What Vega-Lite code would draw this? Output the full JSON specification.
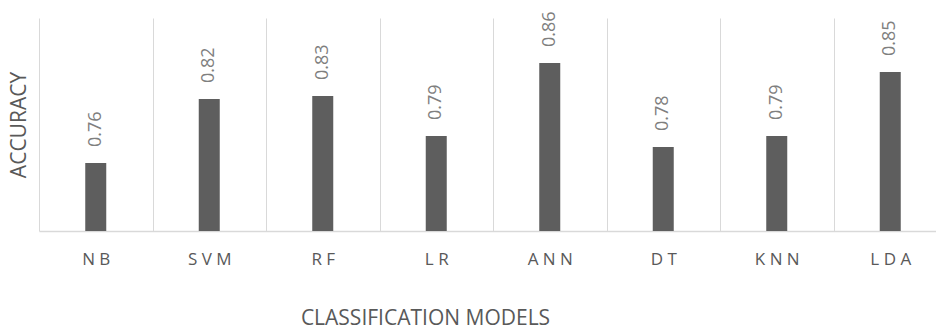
{
  "$schema": "https://vega.github.io/schema/vega-lite/v6.json",
  "autosize": {"type": "none"},
  "width": 897,
  "height": 213,
  "padding": {"left": 39, "top": 18, "right": 0, "bottom": 96},
  "background": "white",
  "config": {"view": {"stroke": null}, "font": "Open Sans"},
  "data": {
    "values": [
      {"model": "NB", "accuracy": 0.7638},
      {"model": "SVM", "accuracy": 0.824},
      {"model": "RF", "accuracy": 0.8268},
      {"model": "LR", "accuracy": 0.7892},
      {"model": "ANN", "accuracy": 0.8577},
      {"model": "DT", "accuracy": 0.7789},
      {"model": "KNN", "accuracy": 0.7892},
      {"model": "LDA", "accuracy": 0.8493}
    ]
  },
  "encoding": {
    "x": {
      "field": "model",
      "type": "nominal",
      "sort": null,
      "scale": {"range": [0, 908], "paddingInner": 0, "paddingOuter": 0},
      "axis": {
        "title": "CLASSIFICATION MODELS",
        "titleFont": "Open Sans",
        "titleFontSize": 21,
        "titleFontWeight": "normal",
        "titleColor": "#595959",
        "titleX": 386,
        "titleY": 93.5,
        "titleAlign": "center",
        "titleBaseline": "alphabetic",
        "labelAngle": 0,
        "labelFont": "Open Sans",
        "labelFontSize": 17,
        "labelColor": "#595959",
        "labelPadding": 20,
        "labelExpr": "join(split(datum.label, ''), ' ')",
        "ticks": false,
        "tickSize": 0,
        "tickBand": "extent",
        "grid": true,
        "gridColor": "#d9d9d9",
        "gridWidth": 1,
        "domainColor": "#d9d9d9",
        "domainWidth": 1.5
      }
    },
    "y": {
      "field": "accuracy",
      "type": "quantitative",
      "scale": {"domain": [0.7, 0.9], "zero": false, "nice": false},
      "axis": {
        "title": "ACCURACY",
        "titleFont": "Open Sans",
        "titleFontSize": 21,
        "titleFontWeight": "normal",
        "titleColor": "#595959",
        "titleX": -14,
        "titleY": 106.5,
        "titleAngle": -90,
        "titleAlign": "center",
        "titleBaseline": "alphabetic",
        "labels": false,
        "ticks": false,
        "domain": false,
        "grid": false
      }
    }
  },
  "layer": [
    {
      "mark": {"type": "bar", "color": "#5e5e5e", "width": 21},
      "encoding": {"y2": {"datum": 0.7}}
    },
    {
      "mark": {
        "type": "text",
        "angle": -90,
        "align": "left",
        "baseline": "middle",
        "dx": 16,
        "font": "Open Sans",
        "fontSize": 18,
        "color": "#7f7f7f"
      },
      "encoding": {"text": {"field": "accuracy", "type": "quantitative", "format": ".2f"}}
    }
  ]
}
